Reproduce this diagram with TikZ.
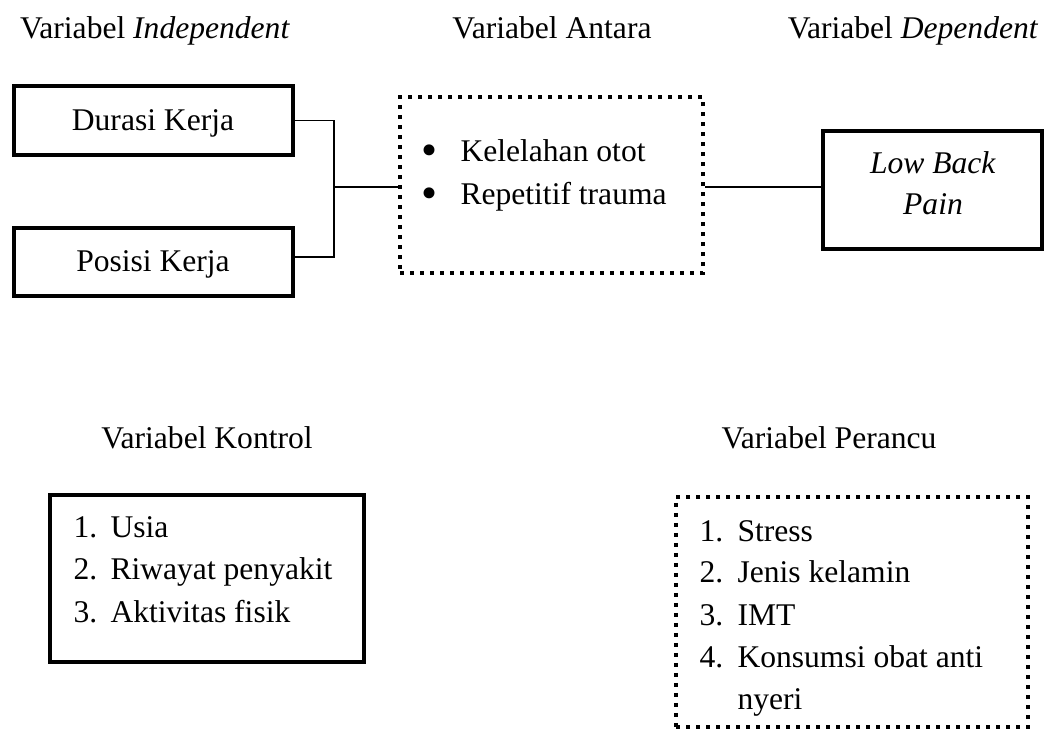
\documentclass[tikz,border=0pt]{standalone}
\usepackage{fontspec}
\setmainfont{Liberation Serif}
\usetikzlibrary{fit}
\begin{document}
\begin{tikzpicture}[x=0.38pt,y=-0.38pt,
  every node/.style={font=\fontsize{12pt}{14pt}\selectfont, inner sep=0pt},
  solidbox/.style={draw, line width=1.5pt, inner sep=0pt},
  dotbox/.style={draw, line width=1.35pt, dash pattern=on 1.35pt off 2.45pt, inner sep=0pt},
  conn/.style={line width=0.45pt},
  txt/.style={anchor=base},
  lft/.style={anchor=base west},
  bul/.style={anchor=center}]
\useasboundingbox (0,0) rectangle (1060,733);

% titles
\node[txt] (tind) at (155,39) {Variabel \textit{Independent}};
\node[txt] (tant) at (552,39) {Variabel Antara};
\node[txt] (tdep) at (913,39) {Variabel \textit{Dependent}};
\node[txt] (tkon) at (207,449) {Variabel Kontrol};
\node[txt] (tper) at (829,449) {Variabel Perancu};

% boxes
\node[solidbox, fit={(14,86) (293,155)}] (dk) {};
\node[solidbox, fit={(14,228) (293,296)}] (pk) {};
\node[dotbox, fit={(400,97) (703,273)}] (ant) {};
\node[solidbox, fit={(823,131) (1042,249)}] (lbp) {};
\node[solidbox, fit={(50,495) (364,662)}] (kon) {};
\node[dotbox, fit={(676,497) (1028,727)}] (per) {};

% box texts
\node[txt] (dkt) at (153,131) {Durasi Kerja};
\node[txt] (pkt) at (153,272) {Posisi Kerja};
\node[bul] (b1) at (430,155) {\scalebox{1.45}{\textbullet}};
\node[lft] (a1) at (460,162) {Kelelahan otot};
\node[bul] (b2) at (430,198) {\scalebox{1.45}{\textbullet}};
\node[lft] (a2) at (460,205) {Repetitif trauma};
\node[txt] (l1) at (933,174) {\textit{Low Back}};
\node[txt] (l2) at (933,215) {\textit{Pain}};

\node[lft] (k1n) at (73,538) {1.};
\node[lft] (k1) at (110,538) {Usia};
\node[lft] (k2n) at (73,580) {2.};
\node[lft] (k2) at (110,580) {Riwayat penyakit};
\node[lft] (k3n) at (73,622) {3.};
\node[lft] (k3) at (110,622) {Aktivitas fisik};

\node[lft] (p1n) at (699,542) {1.};
\node[lft] (p1) at (737,542) {Stress};
\node[lft] (p2n) at (699,583) {2.};
\node[lft] (p2) at (737,583) {Jenis kelamin};
\node[lft] (p3n) at (699,625) {3.};
\node[lft] (p3) at (737,625) {IMT};
\node[lft] (p4n) at (699,667) {4.};
\node[lft] (p4) at (737,667) {Konsumsi obat anti};
\node[lft] (p5) at (737,709) {nyeri};

% connectors
\coordinate (j) at (334,187);
\draw[conn] (dk.east) -| (j);
\draw[conn] ([yshift=1.9pt]pk.east) -| (j);
\draw[conn] (j) -- (j -| ant.west);
\draw[conn] (ant.east |- j) -- (j -| lbp.west);
\end{tikzpicture}
\end{document}
